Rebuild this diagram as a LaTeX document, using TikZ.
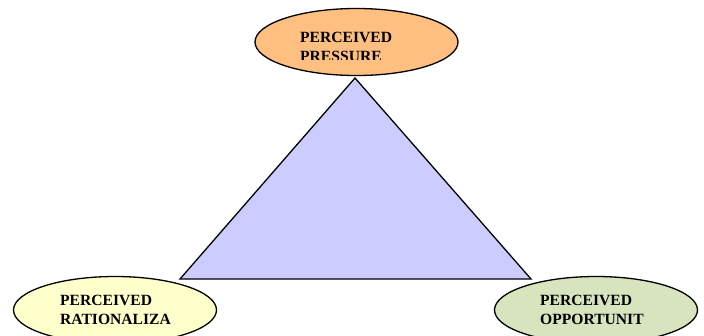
\documentclass[tikz,border=0pt]{standalone}
\usepackage{fontspec}
\setmainfont{Liberation Serif}
\usetikzlibrary{shapes.geometric,positioning}
\definecolor{pressfill}{HTML}{FFBF80}
\definecolor{ratfill}{HTML}{FFFFCC}
\definecolor{oppfill}{HTML}{D7E4BD}
\definecolor{trifill}{HTML}{CCCCFF}
\tikzset{
  factor/.style={ellipse, draw=black, line width=1.3pt,
                 minimum width=203pt, minimum height=67pt, inner sep=0pt},
  factortext/.style={anchor=north west, inner sep=0pt, align=left,
                     font=\fontsize{15.6}{19}\selectfont\bfseries},
  triside/.style={draw=black, line width=1.3pt, fill=trifill, line join=miter},
}
\begin{document}
\begin{tikzpicture}[x=1pt, y=-1pt]
\clip (0,0) rectangle (704,335);
\fill[white] (0,0) rectangle (704,335);

% ── fraud triangle ─────────────────────────────────────────
\coordinate (apex) at (355,78);
\coordinate (left) at (180,279);
\coordinate (right) at (531,279);
\draw[triside] (apex) -- (right) -- (left) -- cycle;

% ── pressure (top) ─────────────────────────────────────────
\node[factor, fill=pressfill] (press) at (356.5,42) {};
\begin{scope}
  \clip (260,20) rectangle (450,59);
  \node[factortext] (presstxt) at (300,32) {PERCEIVED\\PRESSURE};
\end{scope}

% ── rationalization (bottom left) ──────────────────────────
\node[factor, fill=ratfill] (rat) at (115,310) {};
\node[factortext] (rattxt) at (60,295) {PERCEIVED\\RATIONALIZA};

% ── opportunity (bottom right) ─────────────────────────────
\node[factor, fill=oppfill] (opp) at (596,310) {};
\node[factortext] (opptxt) at (540,295) {PERCEIVED\\OPPORTUNIT};

\end{tikzpicture}
\end{document}
